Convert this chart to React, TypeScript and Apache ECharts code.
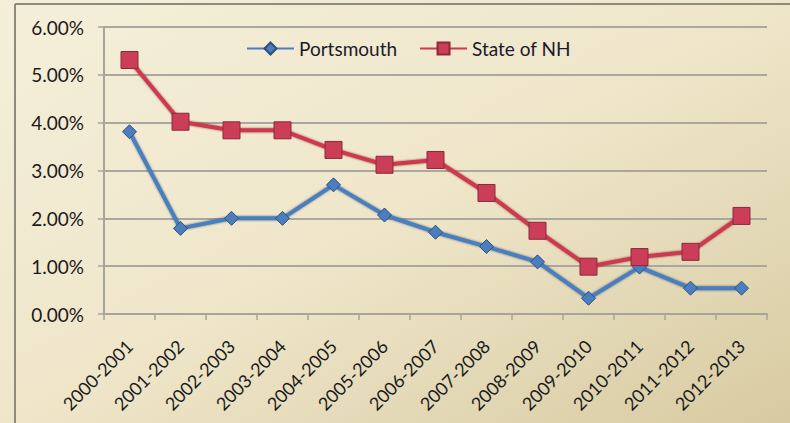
import React, { useEffect, useRef } from "react";
import * as echarts from "echarts";

const categories = [
  "2000-2001", "2001-2002", "2002-2003", "2003-2004", "2004-2005", "2005-2006", "2006-2007",
  "2007-2008", "2008-2009", "2009-2010", "2010-2011", "2011-2012", "2012-2013",
];
const portsmouth = [3.81, 1.79, 2.0, 2.0, 2.7, 2.07, 1.71, 1.41, 1.09, 0.33, 0.98, 0.54, 0.54];
const stateNH = [5.31, 4.02, 3.84, 3.84, 3.43, 3.12, 3.22, 2.53, 1.74, 0.99, 1.19, 1.3, 2.05];
const yTicks = { min: 0, max: 6, interval: 1 };

const FONT = "Lato, 'Open Sans', sans-serif";

export default function App() {
  const ref = useRef<HTMLDivElement>(null);
  useEffect(() => {
    if (!ref.current) return;
    const chart = echarts.init(ref.current, undefined, { renderer: "svg" });
    chart.setOption({
      animation: false,
      backgroundColor: new echarts.graphic.LinearGradient(0, 0, 1, 1, [
        { offset: 0, color: "#f5efda" },
        { offset: 0.5, color: "#efe6ca" },
        { offset: 1, color: "#d8cba2" },
      ]),
      graphic: [
        { type: "line", shape: { x1: 15, y1: 4, x2: 790, y2: 4 }, style: { stroke: "#8e8a7c", lineWidth: 2 } },
        { type: "line", shape: { x1: 15, y1: 4, x2: 15, y2: 423 }, style: { stroke: "#8e8a7c", lineWidth: 2 } },
      ],
      legend: {
        left: 241,
        top: 34,
        itemWidth: 47,
        itemHeight: 15,
        itemGap: 22,
        textStyle: { fontFamily: FONT, fontSize: 19, color: "#1a1a2a", padding: [0, 0, 0, 0] },
        data: ["Portsmouth", "State of NH"],
      },
      grid: { left: 104, right: 23, top: 27, bottom: 109, containLabel: false },
      xAxis: {
        type: "category",
        data: categories,
        boundaryGap: true,
        axisLine: { lineStyle: { color: "#a7a49a", width: 2 } },
        axisTick: { show: true, length: 6, lineStyle: { color: "#a7a49a", width: 1.5 } },
        axisLabel: {
          rotate: 45,
          interval: 0,
          margin: 29,
          fontFamily: FONT,
          fontSize: 18,
          color: "#1a1a1a",
        },
      },
      yAxis: {
        type: "value",
        min: yTicks.min,
        max: yTicks.max,
        interval: yTicks.interval,
        axisLine: { show: true, lineStyle: { color: "#a7a49a", width: 2 } },
        axisTick: { show: true, length: 6, lineStyle: { color: "#a7a49a", width: 1.5 } },
        splitLine: { lineStyle: { color: "#a9a79e", width: 2 } },
        axisLabel: {
          margin: 20,
          fontFamily: FONT,
          fontSize: 19,
          color: "#1a1a1a",
          formatter: (v: number) => v.toFixed(2) + "%",
        },
      },
      series: [
        {
          name: "Portsmouth",
          type: "line",
          data: portsmouth,
          symbol: "diamond",
          symbolSize: 14,
          lineStyle: { color: "#4a7ebf", width: 4, shadowColor: "rgba(20,30,60,0.6)", shadowBlur: 2 },
          itemStyle: { color: "#4a7ebf", borderColor: "#2f4f78", borderWidth: 1 },
          z: 3,
        },
        {
          name: "State of NH",
          type: "line",
          data: stateNH,
          symbol: "rect",
          symbolSize: 17,
          lineStyle: { color: "#d0384e", width: 4, shadowColor: "rgba(60,10,20,0.6)", shadowBlur: 2 },
          itemStyle: { color: "#cc3d58", borderColor: "#8a2a3a", borderWidth: 1 },
          z: 4,
        },
      ],
    });
    return () => chart.dispose();
  }, []);
  return (
    <div
      ref={ref}
      style={{ position: "fixed", left: 0, top: 0, width: 790, height: 423 }}
    />
  );
}
